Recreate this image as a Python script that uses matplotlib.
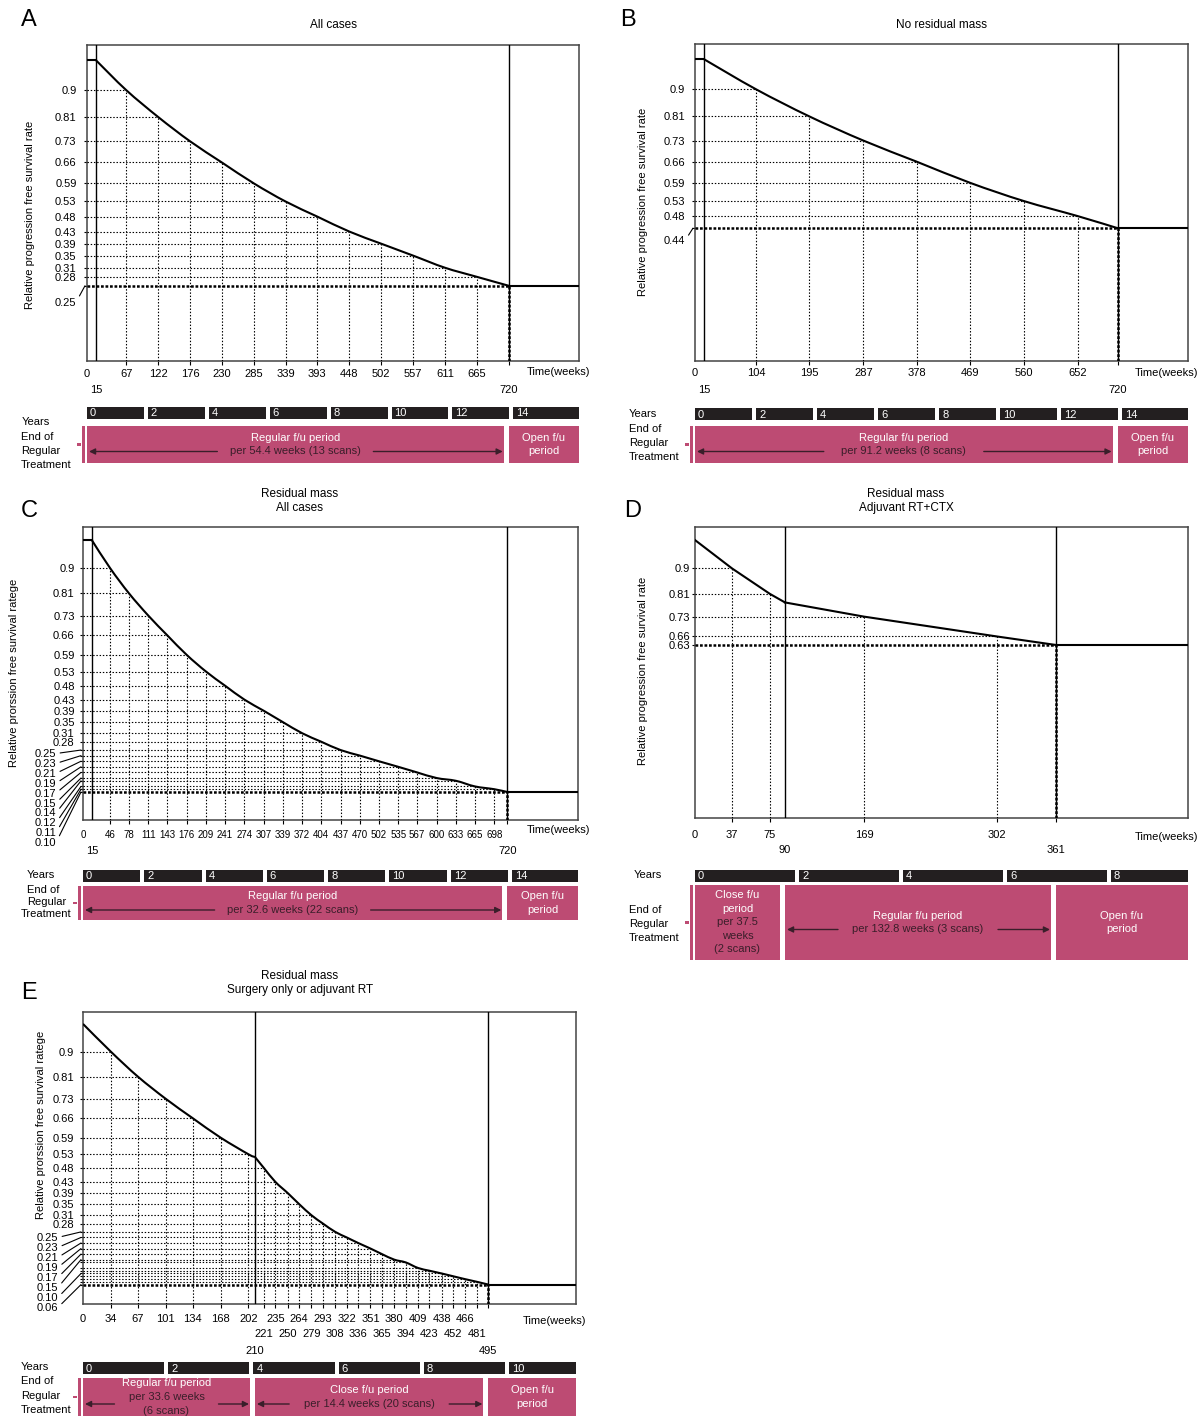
import matplotlib
matplotlib.use("Agg")
import matplotlib.pyplot as plt
from matplotlib import transforms
from matplotlib.patches import Rectangle, PathPatch
from matplotlib.path import Path

W, H = 1203, 1417
plt.rcParams["font.family"] = ["Liberation Sans", "DejaVu Sans"]
plt.rcParams["font.size"] = 8

PINK = "#BD4B73"
BAR = "#231F20"
DARK = "#3A1E2A"

# ---- data ----
START_RATE = 1.0

# A: all cases
A_START = 15
A_WEEKS = [67, 122, 176, 230, 285, 339, 393, 448, 502, 557, 611, 665, 720]
A_RATES = [0.9, 0.81, 0.73, 0.66, 0.59, 0.53, 0.48, 0.43, 0.39, 0.35, 0.31, 0.28, 0.25]
A_XROW1 = [0, 67, 122, 176, 230, 285, 339, 393, 448, 502, 557, 611, 665]
A_XROW2 = [15, 720]
A_BOUNDS = [0, 720]
A_YEARS = [0, 2, 4, 6, 8, 10, 12, 14]

# B: no residual mass
B_START = 15
B_WEEKS = [104, 195, 287, 378, 469, 560, 652, 720]
B_RATES = [0.9, 0.81, 0.73, 0.66, 0.59, 0.53, 0.48, 0.44]
B_XROW1 = [0, 104, 195, 287, 378, 469, 560, 652]
B_XROW2 = [15, 720]
B_BOUNDS = [0, 720]
B_YEARS = [0, 2, 4, 6, 8, 10, 12, 14]

# C: residual mass, all cases
C_START = 15
C_WEEKS = [46, 78, 111, 143, 176, 209, 241, 274, 307, 339, 372, 404, 437, 470,
           502, 535, 567, 600, 633, 665, 698, 720]
C_RATES = [0.9, 0.81, 0.73, 0.66, 0.59, 0.53, 0.48, 0.43, 0.39, 0.35, 0.31, 0.28,
           0.25, 0.23, 0.21, 0.19, 0.17, 0.15, 0.14, 0.12, 0.11, 0.10]
C_XROW1 = [0, 46, 78, 111, 143, 176, 209, 241, 274, 307, 339, 372, 404, 437, 470,
           502, 535, 567, 600, 633, 665, 698]
C_XROW2 = [15, 720]
C_BOUNDS = [0, 720]
C_YEARS = [0, 2, 4, 6, 8, 10, 12, 14]

# D: residual mass, adjuvant RT+CTX
D_WEEKS = [37, 75, 169, 302, 361]
D_RATES = [0.9, 0.81, 0.73, 0.66, 0.63]
D_KNEE = (90, 0.78)
D_XROW1 = [0, 37, 75, 169, 302]
D_XROW2 = [90, 361]
D_BOUNDS = [0, 90, 361]
D_YEARS = [0, 2, 4, 6, 8]

# E: residual mass, surgery only or adjuvant RT
E_WEEKS = [34, 67, 101, 134, 168, 202, 221, 235, 250, 264, 279, 293, 308, 322, 336,
           351, 365, 380, 394, 409, 423, 438, 452, 466, 481, 495]
E_RATES = [0.9, 0.81, 0.73, 0.66, 0.59, 0.53, 0.48, 0.43, 0.39, 0.35, 0.31, 0.28, 0.25,
           0.23, 0.21, 0.19, 0.17, 0.15, 0.14, 0.12, 0.11, 0.10, 0.09, 0.08, 0.07, 0.06]
E_LABELED = [0.9, 0.81, 0.73, 0.66, 0.59, 0.53, 0.48, 0.43, 0.39, 0.35, 0.31, 0.28,
             0.25, 0.23, 0.21, 0.19, 0.17, 0.15, 0.10, 0.06]
E_KNEE = (210, 0.52)
E_XROW1 = [0, 34, 67, 101, 134, 168, 202, 235, 264, 293, 322, 351, 380, 409, 438, 466]
E_XROW2 = [221, 250, 279, 308, 336, 365, 394, 423, 452, 481]
E_XROW3 = [210, 495]
E_BOUNDS = [0, 210, 495]
E_YEARS = [0, 2, 4, 6, 8, 10]


def pieces(weeks, rates, start=None, knee=None, smooth=True):
    """Split the survival curve into runs; a knee or a flat start breaks the run."""
    pts = list(zip(weeks, rates))
    if knee is not None:
        pts.append(knee)
    pts.sort()
    if start is not None:
        head = [(0, START_RATE), (start, START_RATE)]
        return [(head, False), ([head[-1]] + pts, smooth)]
    pts = [(0, START_RATE)] + pts
    if knee is None:
        return [(pts, smooth)]
    k = pts.index(knee)
    return [(pts[:k + 1], smooth), (pts[k:], smooth)]


def smooth_path(pts):
    # Catmull-Rom through the points, drawn as cubic Bezier segments
    verts = [pts[0]]
    codes = [Path.MOVETO]
    n = len(pts)
    for i in range(n - 1):
        p0 = pts[max(i - 1, 0)]
        p1, p2 = pts[i], pts[i + 1]
        p3 = pts[min(i + 2, n - 1)]
        c1 = (p1[0] + (p2[0] - p0[0]) / 6, p1[1] + (p2[1] - p0[1]) / 6)
        c2 = (p2[0] - (p3[0] - p1[0]) / 6, p2[1] - (p3[1] - p1[1]) / 6)
        verts += [c1, c2, p2]
        codes += [Path.CURVE4] * 3
    return Path(verts, codes)


fig = plt.figure(figsize=(W / 100, H / 100), dpi=100)


def fbox(x0, y0, x1, y1):
    return [x0 / W, 1 - y1 / H, (x1 - x0) / W, (y1 - y0) / H]


def ftext(x, y, s, **kw):
    kw.setdefault("va", "center")
    return fig.text(x / W, 1 - y / H, s, **kw)


def lab(v):
    return "0.9" if v == 0.9 else f"{v:.2f}"


THIN = dict(color="black", lw=0.8, ls=(0, (1.3, 1.6)))
THICK = dict(color="black", lw=1.8, ls=(0, (1.1, 0.7)))


def draw_panel(p):
    x0, y0, x1, y1 = p["box"]
    xmax = p["xmax"]
    ax = fig.add_axes(fbox(*p["box"]))
    ax.set_xlim(0, xmax)
    ax.set_ylim(*p["ylim"])
    ymin = p["ylim"][0]
    weeks, rates = p["weeks"], p["rates"]

    for pts, smooth in p["curve"]:
        if smooth and len(pts) > 2:
            ax.add_patch(PathPatch(smooth_path(pts), fill=False, ec="black", lw=1.5, zorder=5))
        else:
            ax.plot([q[0] for q in pts], [q[1] for q in pts], color="black", lw=1.5, zorder=5)
    ax.plot([weeks[-1], xmax], [rates[-1]] * 2, color="black", lw=1.5, zorder=5)

    for w, r in zip(weeks[:-1], rates[:-1]):
        ax.plot([0, w], [r, r], zorder=3, **THIN)
        ax.plot([w, w], [ymin, r], zorder=3, **THIN)
    ax.plot([0, weeks[-1]], [rates[-1]] * 2, zorder=4, **THICK)
    ax.plot([weeks[-1]] * 2, [ymin, rates[-1]], zorder=4, **THICK)
    for v in p["vlines"]:
        ax.axvline(v, color="black", lw=1.0, zorder=4)
    for s in ax.spines.values():
        s.set_color("#444444")
        s.set_linewidth(1.1)

    ax.set_xticks(weeks)
    ax.set_xticklabels([])
    ax.tick_params(axis="x", length=3, width=0.8)
    labeled = p.get("ylabeled", rates)
    fan = [v for v in labeled if v <= p["fan_from"]]
    ax.set_yticks(rates)
    ax.set_yticklabels([lab(v) if (v in labeled and v not in fan) else "" for v in rates])
    ax.tick_params(axis="y", length=2.5, width=0.8, pad=p["ypad"], labelsize=8)

    # offset labels with leader lines
    if fan:
        base = ax.transData.transform((0, fan[0]))[1]
        for i, v in enumerate(fan):
            ty = base - p["fan_off"] - i * p["fan_step"]
            ax.annotate(lab(v), xy=(-2 / (x1 - x0), v), xycoords=("axes fraction", "data"),
                        xytext=(x0 + p["fan_dx"], ty), textcoords="figure pixels",
                        ha="right", va="center", fontsize=8,
                        arrowprops=dict(arrowstyle="-", color="black", lw=0.8,
                                        shrinkA=1, shrinkB=0, relpos=(1, 0.55)))

    for k, (row, off) in enumerate(zip(p["xrows"], p["xoffs"])):
        tr = transforms.offset_copy(ax.get_xaxis_transform(), fig=fig, x=0, y=-off, units="dots")
        fs = p.get("xfs", 8) if k == 0 else 8
        for w in row:
            ax.text(w, 0, str(w), transform=tr, ha="center", va="center", fontsize=fs)

    ftext(*p["time"], "Time(weeks)", ha="left")
    ftext(*p["title"][1:], p["title"][0], ha="center", fontsize=8.5, linespacing=1.2)
    ftext(*p["letter"][1:], p["letter"][0], ha="left", fontsize=17)
    ftext(*p["ylabel"][1:], p["ylabel"][0], ha="center", rotation=90, fontsize=8)

    # timeline below
    yb0, yb1 = p["years_y"]
    pb0, pb1 = p["pink_y"]
    tl = fig.add_axes(fbox(x0, yb0, x1, pb1))
    tl.set_xlim(0, xmax)
    tl.set_ylim(pb1, yb0)
    tl.axis("off")
    ppw = (x1 - x0) / xmax
    years = p["years"]
    for i, yr in enumerate(years):
        s = yr * 52
        e = years[i + 1] * 52 - 4 / ppw if i + 1 < len(years) else xmax
        tl.add_patch(Rectangle((s, yb0), e - s, yb1 - yb0, color=BAR, lw=0))
        tl.text(s + 3 / ppw, (yb0 + yb1) / 2 + 0.5, str(yr), color="white",
                ha="left", va="center", fontsize=8)

    bounds = p["bounds"] + [xmax]
    cy = (pb0 + pb1) / 2
    for i, (white, dark, arrows, gap) in enumerate(p["boxes"]):
        s, e = bounds[i], bounds[i + 1]
        if i + 1 < len(p["boxes"]):
            e -= 5 / ppw
        tl.add_patch(Rectangle((s, pb0), e - s, pb1 - pb0, color=PINK, lw=0))
        lines = [(t, "white") for t in white] + [(t, DARK) for t in dark]
        cx = (s + e) / 2
        n = len(lines)
        for j, (t, c) in enumerate(lines):
            tl.text(cx, cy + (j - (n - 1) / 2) * 13.5, t, color=c,
                    ha="center", va="center", fontsize=8)
        if arrows:
            ay = cy + 7
            for edge, inner in ((s + 2 / ppw, cx - gap / ppw), (e - 1 / ppw, cx + gap / ppw)):
                tl.annotate("", xy=(edge, ay), xytext=(inner, ay),
                            arrowprops=dict(arrowstyle="-|>", color=DARK, lw=1.0,
                                            mutation_scale=9, shrinkA=0, shrinkB=0))
    tl.add_patch(Rectangle((-5 / ppw, pb0), 2.5 / ppw, pb1 - pb0, color=PINK, lw=0, clip_on=False))
    tl.add_patch(Rectangle((-10 / ppw, cy - 1.2), 4 / ppw, 2.4, color=PINK, lw=0, clip_on=False))

    ftext(*p["years_lbl"], "Years", ha="left")
    for (x, y), t in zip(p["eort_lbl"], ["End of", "Regular", "Treatment"]):
        ftext(x, y, t, ha="left")


OPEN = (["Open f/u", "period"], [], False, 0)

panels = [
    dict(box=(87, 45, 579, 361), xmax=840, ylim=(0, 1.05),
         weeks=A_WEEKS, rates=A_RATES, curve=pieces(A_WEEKS, A_RATES, start=A_START),
         vlines=[A_START, A_WEEKS[-1]], fan_from=0.25, fan_dx=-11, fan_off=17, fan_step=10,
         ypad=5, xrows=[A_XROW1, A_XROW2], xoffs=[13, 29], time=(527, 372),
         title=("All cases", 333, 25), letter=("A", 21, 20),
         ylabel=("Relative progression free survival rate", 30, 215),
         years_y=(407, 419), pink_y=(426, 463), years=A_YEARS, bounds=A_BOUNDS,
         boxes=[(["Regular f/u period"], ["per 54.4 weeks (13 scans)"], True, 78), OPEN],
         years_lbl=(22, 422), eort_lbl=[(21, 437), (21, 451), (21, 465)]),
    dict(box=(695, 44, 1188, 361), xmax=840, ylim=(0, 1.05),
         weeks=B_WEEKS, rates=B_RATES, curve=pieces(B_WEEKS, B_RATES, start=B_START),
         vlines=[B_START, B_WEEKS[-1]], fan_from=0.44, fan_dx=-10, fan_off=13, fan_step=10,
         ypad=4.5, xrows=[B_XROW1, B_XROW2], xoffs=[12, 29], time=(1135, 373),
         title=("No residual mass", 942, 25), letter=("B", 620, 20),
         ylabel=("Relative progression free survival rate", 643, 202),
         years_y=(408, 420), pink_y=(426, 463), years=B_YEARS, bounds=B_BOUNDS,
         boxes=[(["Regular f/u period"], ["per 91.2 weeks (8 scans)"], True, 80), OPEN],
         years_lbl=(629, 414), eort_lbl=[(629, 429), (629, 443), (629, 457)]),
    dict(box=(83, 527, 578, 820), xmax=840, ylim=(0, 1.047),
         weeks=C_WEEKS, rates=C_RATES, curve=pieces(C_WEEKS, C_RATES, start=C_START),
         vlines=[C_START, C_WEEKS[-1]], fan_from=0.25, fan_dx=-27, fan_off=4, fan_step=9.9,
         ypad=3.5, xrows=[C_XROW1, C_XROW2], xoffs=[15, 31], xfs=7, time=(527, 830),
         title=("Residual mass\nAll cases", 300, 501), letter=("C", 21, 511),
         ylabel=("Relative prorssion free survival ratege", 14, 673),
         years_y=(870, 882), pink_y=(886, 920), years=C_YEARS, bounds=C_BOUNDS,
         boxes=[(["Regular f/u period"], ["per 32.6 weeks (22 scans)"], True, 78), OPEN],
         years_lbl=(27, 875), eort_lbl=[(27, 890), (27, 902), (21, 914)]),
    dict(box=(695, 527, 1188, 818), xmax=493, ylim=(0.02, 1.046),
         weeks=D_WEEKS, rates=D_RATES, curve=pieces(D_WEEKS, D_RATES, knee=D_KNEE, smooth=False),
         vlines=[D_KNEE[0], D_WEEKS[-1]], fan_from=0, fan_dx=0, fan_off=0, fan_step=0,
         ypad=1, xrows=[D_XROW1, D_XROW2], xoffs=[17, 32], time=(1135, 837),
         title=("Residual mass\nAdjuvant RT+CTX", 906, 501), letter=("D", 624, 511),
         ylabel=("Relative progression free survival rate", 643, 671),
         years_y=(870, 882), pink_y=(885, 960), years=D_YEARS, bounds=D_BOUNDS,
         boxes=[(["Close f/u", "period"], ["per 37.5", "weeks", "(2 scans)"], False, 0),
                (["Regular f/u period"], ["per 132.8 weeks (3 scans)"], True, 80), OPEN],
         years_lbl=(634, 875), eort_lbl=[(629, 910), (629, 924), (629, 938)]),
    dict(box=(83, 1012, 576, 1304), xmax=602, ylim=(-0.01, 1.043),
         weeks=E_WEEKS, rates=E_RATES, ylabeled=E_LABELED,
         curve=pieces(E_WEEKS, E_RATES, knee=E_KNEE),
         vlines=[E_KNEE[0], E_WEEKS[-1]], fan_from=0.25, fan_dx=-25, fan_off=6, fan_step=10,
         ypad=4, xrows=[E_XROW1, E_XROW2, E_XROW3], xoffs=[15, 30, 47], time=(523, 1321),
         title=("Residual mass\nSurgery only or adjuvant RT", 300, 983), letter=("E", 21, 993),
         ylabel=("Relative prorssion free survival ratege", 41, 1125),
         years_y=(1362, 1374), pink_y=(1378, 1416), years=E_YEARS, bounds=E_BOUNDS,
         boxes=[(["Regular f/u period"], ["per 33.6 weeks", "(6 scans)"], True, 52),
                (["Close f/u period"], ["per 14.4 weeks (20 scans)"], True, 80), OPEN],
         years_lbl=(21, 1367), eort_lbl=[(21, 1381), (21, 1396), (21, 1410)]),
]

for p in panels:
    draw_panel(p)

fig.savefig("out.png", dpi=100)
